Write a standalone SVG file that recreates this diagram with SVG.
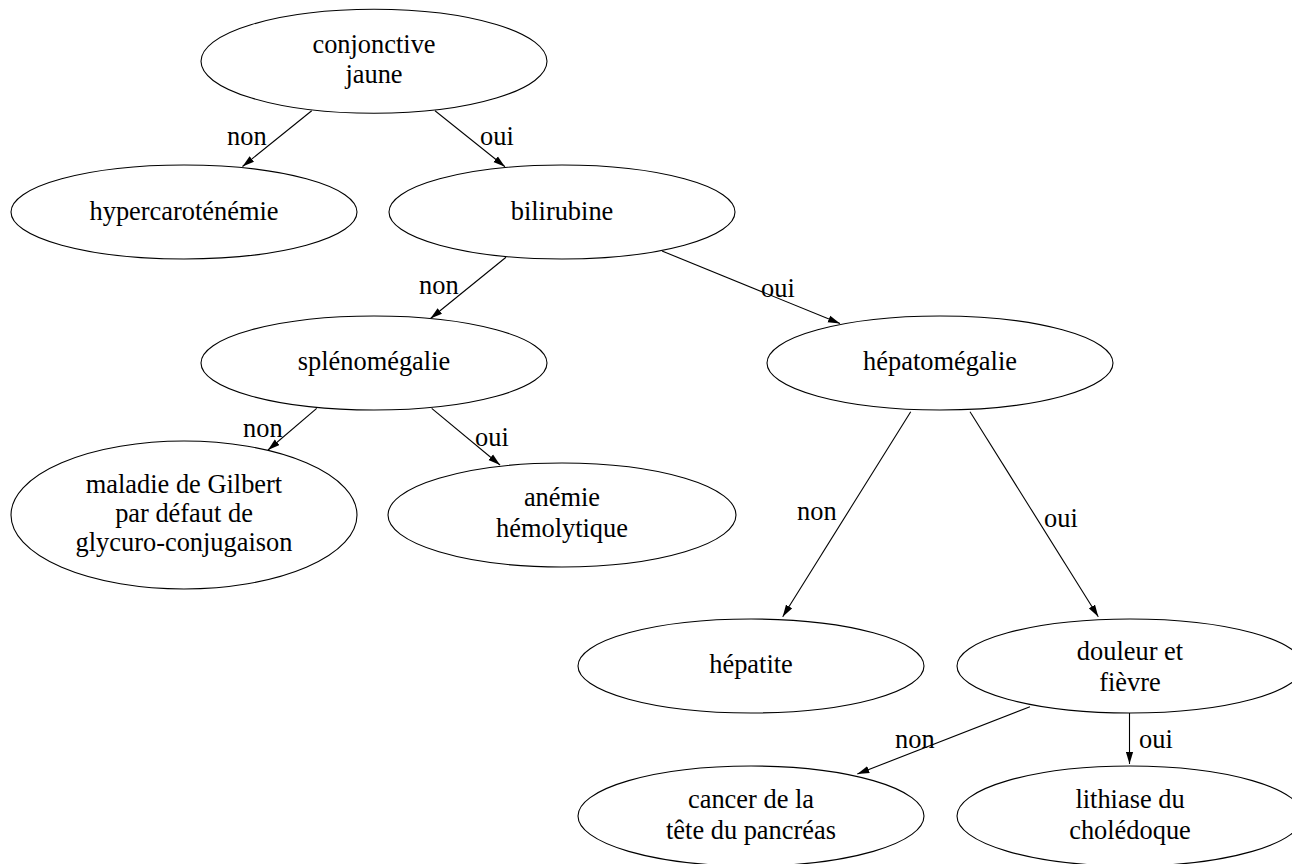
<svg xmlns="http://www.w3.org/2000/svg" width="1292" height="864" viewBox="0 0 1292 864">
<defs>
<style>
.n ellipse{fill:#fff;stroke:#000;stroke-width:1.1}
text{font-family:"Liberation Serif","Times New Roman",serif;font-size:26.4px;fill:#000}
.n text{text-anchor:middle}
.e line{stroke:#000;stroke-width:1.1}
</style>
<marker id="ah" markerUnits="userSpaceOnUse" markerWidth="12" markerHeight="8" refX="12" refY="4" orient="auto" viewBox="0 0 12 8">
<path d="M0,0.4 L12,4 L0,7.6 z" fill="#000"/>
</marker>
</defs>
<rect width="1292" height="864" fill="#fff"/>
<g id="connectors" class="e">
<line x1="311.7" y1="110.7" x2="242.5" y2="166.5" marker-end="url(#ah)"/>
<line x1="435" y1="110.7" x2="505" y2="166.7" marker-end="url(#ah)"/>
<line x1="506" y1="257.3" x2="430.5" y2="318.5" marker-end="url(#ah)"/>
<line x1="662" y1="251" x2="840" y2="323.5" marker-end="url(#ah)"/>
<line x1="316.7" y1="408.3" x2="268" y2="450" marker-end="url(#ah)"/>
<line x1="431.7" y1="408.3" x2="500" y2="465" marker-end="url(#ah)"/>
<line x1="910.7" y1="411.7" x2="782.7" y2="616.7" marker-end="url(#ah)"/>
<line x1="970" y1="411.7" x2="1098.3" y2="616.7" marker-end="url(#ah)"/>
<line x1="1030" y1="706.7" x2="857.3" y2="774" marker-end="url(#ah)"/>
<line x1="1129.5" y1="713" x2="1129.5" y2="764" marker-end="url(#ah)"/>
<text x="227" y="145">non</text>
<text x="480" y="145">oui</text>
<text x="419" y="294">non</text>
<text x="761" y="297">oui</text>
<text x="243" y="437">non</text>
<text x="475" y="446">oui</text>
<text x="797" y="520">non</text>
<text x="1044" y="527">oui</text>
<text x="895" y="748">non</text>
<text x="1139" y="748">oui</text>
</g>
<g id="conjonctive" class="n"><ellipse cx="374" cy="61.3" rx="173" ry="52"/><text x="374" y="53.3">conjonctive</text><text x="374" y="83.3">jaune</text></g>
<g id="hypercarotenemie" class="n"><ellipse cx="184" cy="212" rx="173" ry="47"/><text x="184" y="220">hypercaroténémie</text></g>
<g id="bilirubine" class="n"><ellipse cx="562" cy="212" rx="173" ry="47"/><text x="562" y="220">bilirubine</text></g>
<g id="splenomegalie" class="n"><ellipse cx="374" cy="363" rx="173" ry="47"/><text x="374" y="370">splénomégalie</text></g>
<g id="hepatomegalie" class="n"><ellipse cx="940" cy="363" rx="173" ry="47"/><text x="940" y="370">hépatomégalie</text></g>
<g id="gilbert" class="n"><ellipse cx="184" cy="515" rx="173" ry="74"/><text x="184" y="493">maladie de Gilbert</text><text x="184" y="522">par défaut de</text><text x="184" y="551">glycuro-conjugaison</text></g>
<g id="anemie" class="n"><ellipse cx="562" cy="515" rx="174" ry="52"/><text x="562" y="506">anémie</text><text x="562" y="537">hémolytique</text></g>
<g id="hepatite" class="n"><ellipse cx="751" cy="666" rx="173" ry="47"/><text x="751" y="673">hépatite</text></g>
<g id="douleur" class="n"><ellipse cx="1130" cy="666" rx="173" ry="47"/><text x="1130" y="660">douleur et</text><text x="1130" y="691">fièvre</text></g>
<g id="cancer" class="n"><ellipse cx="751" cy="816" rx="173" ry="50"/><text x="751" y="808">cancer de la</text><text x="751" y="839">tête du pancréas</text></g>
<g id="lithiase" class="n"><ellipse cx="1130" cy="816" rx="173" ry="50"/><text x="1130" y="808">lithiase du</text><text x="1130" y="839">cholédoque</text></g>
</svg>
